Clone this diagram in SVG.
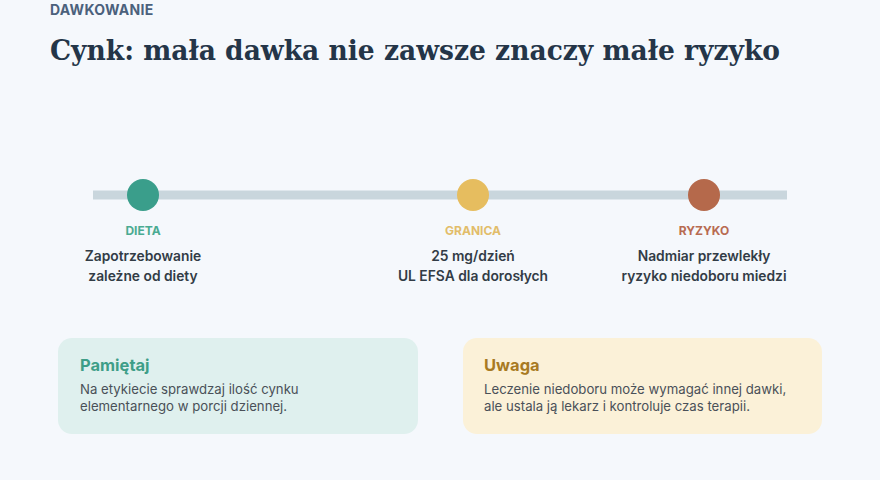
<svg xmlns="http://www.w3.org/2000/svg" width="880" height="480" viewBox="0 0 880 480">
<style>
.kicker{font-family:Inter,"Liberation Sans",sans-serif;font-size:14px;font-weight:700;fill:#4b617c;letter-spacing:0.3px}
.title{font-family:"DejaVu Serif","Liberation Serif",serif;font-size:27px;font-weight:700;fill:#243548}
.lab{font-family:Inter,"Liberation Sans",sans-serif;font-size:12px;font-weight:700;text-anchor:middle}
.desc{font-family:Inter,"Liberation Sans",sans-serif;font-size:13.8px;font-weight:600;fill:#323c46;text-anchor:middle}
.ct{font-family:Inter,"Liberation Sans",sans-serif;font-size:16.5px;font-weight:700}
.cb{font-family:Inter,"Liberation Sans",sans-serif;font-size:13.2px;fill:#4a5058}
</style>
<rect width="880" height="480" fill="#f5f8fc"/>
<text class="kicker" x="50" y="15">DAWKOWANIE</text>
<text class="title" x="50" y="60" textLength="730" lengthAdjust="spacingAndGlyphs">Cynk: mała dawka nie zawsze znaczy małe ryzyko</text>
<g id="connectors">
<rect x="93" y="190.5" width="694" height="9" fill="#c9d6dd"/>
</g>
<g id="dieta">
<circle cx="143" cy="195" r="16" fill="#3a9e8b"/>
<text class="lab" x="143" y="235" fill="#4aab92">DIETA</text>
<text class="desc" x="143" y="261">Zapotrzebowanie</text>
<text class="desc" x="143" y="281">zależne od diety</text>
</g>
<g id="granica">
<circle cx="473" cy="195" r="16" fill="#e6bd5f"/>
<text class="lab" x="473" y="235" fill="#e2bd6a">GRANICA</text>
<text class="desc" x="473" y="261">25 mg/dzień</text>
<text class="desc" x="473" y="281">UL EFSA dla dorosłych</text>
</g>
<g id="ryzyko">
<circle cx="704" cy="195" r="16" fill="#b5694b"/>
<text class="lab" x="704" y="235" fill="#b86b51">RYZYKO</text>
<text class="desc" x="704" y="261">Nadmiar przewlekły</text>
<text class="desc" x="704" y="281">ryzyko niedoboru miedzi</text>
</g>
<g id="pamietaj">
<rect x="58" y="338" width="360" height="96" rx="14" fill="#dff0ee"/>
<text class="ct" x="80" y="371" fill="#3e9e88">Pamiętaj</text>
<text class="cb" x="80" y="394">Na etykiecie sprawdzaj ilość cynku</text>
<text class="cb" x="80" y="411">elementarnego w porcji dziennej.</text>
</g>
<g id="uwaga">
<rect x="463" y="338" width="359" height="96" rx="14" fill="#fbf1d8"/>
<text class="ct" x="484" y="371" fill="#a87a22">Uwaga</text>
<text class="cb" x="484" y="394">Leczenie niedoboru może wymagać innej dawki,</text>
<text class="cb" x="484" y="411">ale ustala ją lekarz i kontroluje czas terapii.</text>
</g>
</svg>
